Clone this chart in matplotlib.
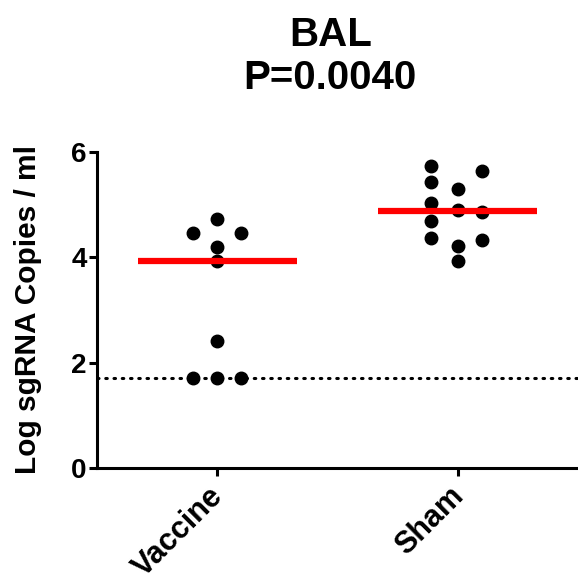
import numpy as np
import matplotlib.pyplot as plt
import matplotlib.transforms as mtransforms

plt.rcParams['font.family'] = ['Liberation Sans', 'DejaVu Sans']
plt.rcParams['font.weight'] = 'bold'

groups = ["Vaccine", "Sham"]
vaccine = [4.73, 4.46, 4.46, 4.20, 3.93, 2.41, 1.71, 1.71, 1.71]
sham = [5.73, 5.43, 5.03, 4.69, 4.37, 5.30, 4.90, 4.21, 3.93, 5.64, 4.86, 4.33]
lod = 1.71
title = "BAL\nP=0.0040"
ylabel = "Log sgRNA Copies / ml"

# horizontal scatter offsets as drawn by the original
vaccine_dx = [0, -0.1, 0.1, 0, 0, 0, -0.1, 0, 0.1]
sham_dx = [-0.11] * 5 + [0] * 4 + [0.1] * 3

fig = plt.figure(figsize=(5.78, 5.79), dpi=100)
ax = fig.add_axes([0.168, 0.192, 0.832, 0.5455])

for i, (vals, dx) in enumerate([(vaccine, vaccine_dx), (sham, sham_dx)]):
    xs = [i + d for d in dx]
    ax.plot(xs, vals, 'o', color='black', markersize=9, zorder=3)
    med = np.median(vals)
    ax.plot([i - 0.33, i + 0.33], [med, med], color='#ff0000', lw=4.5,
            solid_capstyle='butt', zorder=4)

ax.axhline(lod, color='black', lw=2.2, linestyle=(0, (0.5, 2.2)),
           dash_capstyle='round', zorder=2)

ax.set_xlim(-0.5, 1.5)
ax.set_ylim(0, 6)
ax.set_yticks([0, 2, 4, 6])
ax.set_xticks([0, 1])
ax.set_xticklabels(groups, rotation=45, ha='right', rotation_mode='anchor')
ax.tick_params(axis='y', labelsize=20, width=2.2, length=6, pad=1.5)
ax.tick_params(axis='x', labelsize=22, width=2.2, length=6)
shift = mtransforms.ScaledTranslation(-9 / 100, 0, fig.dpi_scale_trans)
for lab in ax.get_xticklabels():
    lab.set_transform(lab.get_transform() + shift)
for s in ['top', 'right']:
    ax.spines[s].set_visible(False)
for s in ['left', 'bottom']:
    ax.spines[s].set_linewidth(2.2)
ax.set_ylabel(ylabel, fontsize=21.5, fontweight='bold', labelpad=21)
ax.set_title(title, fontsize=29, fontweight='bold', pad=45, linespacing=1.17,
             x=0.485)

fig.savefig("out.png", dpi=100)
